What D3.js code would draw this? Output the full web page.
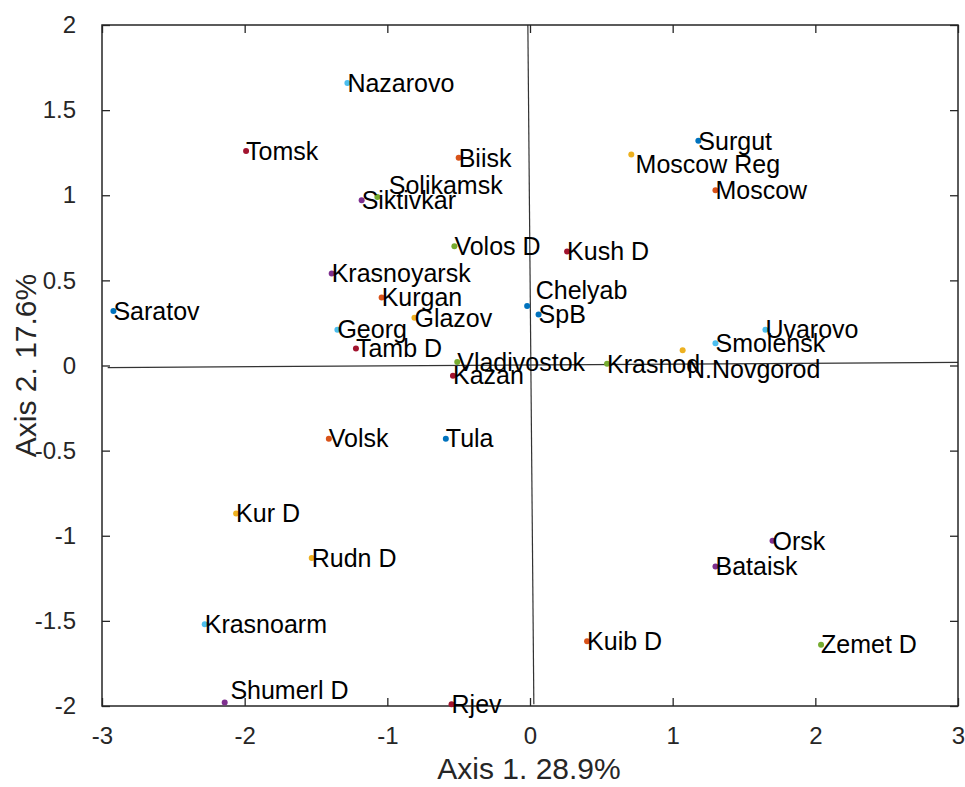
<!DOCTYPE html>
<html>
<head>
<meta charset="utf-8">
<script src="https://cdn.jsdelivr.net/npm/d3@7"></script>
<style>
  html, body { margin: 0; padding: 0; background: #fff; }
  svg { display: block; font-family: "Liberation Sans", Arial, Helvetica, sans-serif; }
</style>
</head>
<body>
<svg id="chart" width="965" height="787"></svg>
<script>
// ---- data ----
const names = ["Nazarovo","Tomsk","Biisk","Solikamsk","Siktivkar","Volos D","Kush D","Krasnoyarsk","Kurgan","Glazov","Georg","Tamb D","Vladivostok","Kazan","Chelyab","SpB","Saratov","Surgut","Moscow Reg","Moscow","Uvarovo","Smolensk","N.Novgorod","Krasnod","Volsk","Tula","Kur D","Rudn D","Orsk","Bataisk","Krasnoarm","Kuib D","Zemet D","Shumerl D","Rjev"];
const axis1 = [-1.28,-1.99,-0.50,-1.07,-1.18,-0.53,0.26,-1.39,-1.04,-0.81,-1.35,-1.22,-0.51,-0.54,-0.02,0.06,-2.92,1.18,0.71,1.30,1.65,1.30,1.07,0.54,-1.41,-0.59,-2.06,-1.53,1.70,1.30,-2.28,0.40,2.04,-2.14,-0.55];
const axis2 = [1.66,1.26,1.22,0.99,0.97,0.70,0.67,0.54,0.40,0.28,0.21,0.10,0.02,-0.06,0.35,0.30,0.32,1.32,1.24,1.03,0.21,0.13,0.09,0.01,-0.43,-0.43,-0.87,-1.13,-1.03,-1.18,-1.52,-1.62,-1.64,-1.98,-1.99];
const groups = [6,7,2,5,4,5,7,4,2,3,6,7,5,7,1,1,1,1,3,2,6,6,3,5,2,1,3,3,4,4,6,2,5,4,7];
const palette = ["#0072BD","#D95319","#EDB120","#7E2F8E","#77AC30","#4DBEEE","#A2142F"];
const xTicks = [-3,-2,-1,0,1,2,3];
const yTicks = [-2,-1.5,-1,-0.5,0,0.5,1,1.5,2];
const xTitle = "Axis 1. 28.9%";
const yTitle = "Axis 2. 17.6%";
// reference lines drawn through the origin (slightly tilted as in original)
const hLine = [[-2.96,-0.012],[3,0.018]];
const vLine = [[-0.015,2],[0.027,-1.99]];
// label nudges (in data units) for labels not placed next to their dot
const labelNudge = {"Solikamsk":[0.08,0.066],"Chelyab":[0.06,0.09],"Moscow Reg":[0.03,-0.06],"N.Novgorod":[0.03,-0.11],"Shumerl D":[0.04,0.07]};

// ---- layout ----
const svg = d3.select("#chart");
const L = 102, R = 958, T = 25, B = 706;
const x = d3.scaleLinear().domain([-3,3]).range([L,R]);
const y = d3.scaleLinear().domain([-2,2]).range([B,T]);
const ink = "#262626";

// zero lines
svg.append("line").attr("x1",x(hLine[0][0])).attr("y1",y(hLine[0][1])).attr("x2",x(hLine[1][0])).attr("y2",y(hLine[1][1])).attr("stroke","#333").attr("stroke-width",1.2);
svg.append("line").attr("x1",x(vLine[0][0])).attr("y1",y(vLine[0][1])).attr("x2",x(vLine[1][0])).attr("y2",y(vLine[1][1])).attr("stroke","#333").attr("stroke-width",1.2);

// axes
const fmt = d => String(d);
const gx = svg.append("g").attr("transform",`translate(0,${B})`).call(d3.axisBottom(x).tickValues(xTicks).tickFormat(fmt).tickSizeInner(-8).tickSizeOuter(0).tickPadding(21));
const gxt = svg.append("g").attr("transform",`translate(0,${T})`).call(d3.axisTop(x).tickValues(xTicks).tickFormat("").tickSizeInner(-8).tickSizeOuter(0));
const gy = svg.append("g").attr("transform",`translate(${L},0)`).call(d3.axisLeft(y).tickValues(yTicks).tickFormat(fmt).tickSizeInner(-8).tickSizeOuter(0).tickPadding(26));
const gyr = svg.append("g").attr("transform",`translate(${R},0)`).call(d3.axisRight(y).tickValues(yTicks).tickFormat("").tickSizeInner(-8).tickSizeOuter(0));
[gx,gxt,gy,gyr].forEach(g => {
  g.select(".domain").remove();
  g.selectAll(".tick line").attr("stroke",ink).attr("stroke-width",1.3);
  g.selectAll(".tick text").attr("fill",ink).style("font-size","24px").style("font-family","'Liberation Sans', Arial, sans-serif");
});
svg.append("rect").attr("x",L).attr("y",T).attr("width",R-L).attr("height",B-T).attr("fill","none").attr("stroke",ink).attr("stroke-width",1.5);

// titles
svg.append("text").attr("x",(L+R)/2 - 1).attr("y",779).attr("text-anchor","middle").attr("fill",ink).style("font-size","30px").text(xTitle);
svg.append("text").attr("transform",`translate(36,${(T+B)/2}) rotate(-90)`).attr("text-anchor","middle").attr("fill",ink).style("font-size","30px").text(yTitle);

// points
const data = names.map((n,i)=>({name:n,x:axis1[i],y:axis2[i],g:groups[i]}));
svg.append("g").selectAll("circle").data(data).join("circle")
  .attr("cx",d=>x(d.x)).attr("cy",d=>y(d.y)).attr("r",3)
  .attr("fill",d=>palette[d.g-1]);
svg.append("g").selectAll("text").data(data).join("text")
  .attr("x",d=>x(d.x + (labelNudge[d.name]?labelNudge[d.name][0]:0.0)))
  .attr("y",d=>y(d.y + (labelNudge[d.name]?labelNudge[d.name][1]:0)))
  .attr("dy","0.35em").attr("fill","#000").style("font-size","25px")
  .text(d=>d.name);
</script>
</body>
</html>
